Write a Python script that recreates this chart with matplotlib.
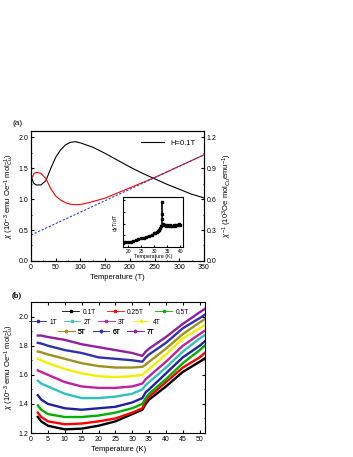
import matplotlib
matplotlib.use("Agg")
import matplotlib.pyplot as plt
from matplotlib.ticker import MultipleLocator

plt.rcParams['font.family'] = ['Liberation Sans', 'DejaVu Sans']
plt.rcParams['mathtext.fontset'] = 'custom'
plt.rcParams['mathtext.rm'] = 'Liberation Sans'
plt.rcParams['mathtext.it'] = 'Liberation Sans:italic'
plt.rcParams['font.size'] = 5

# ---- panel (a) data ----
T_chi = [2, 5, 10, 20, 30, 40, 50, 60, 70, 80, 90, 100, 125, 150, 175, 200,
         225, 250, 275, 300, 325, 350]
chi = [1.33, 1.26, 1.23, 1.23, 1.30, 1.50, 1.68, 1.80, 1.88, 1.92, 1.93, 1.91,
       1.84, 1.74, 1.63, 1.52, 1.42, 1.33, 1.24, 1.16, 1.08, 1.02]
T_inv = [2, 6, 12, 20, 30, 40, 50, 60, 70, 80, 90, 100, 120, 150, 200, 250,
         300, 350]
chi_inv = [0.81, 0.85, 0.86, 0.85, 0.80, 0.70, 0.63, 0.59, 0.565, 0.55, 0.546,
           0.548, 0.57, 0.61, 0.71, 0.81, 0.92, 1.03]
T_fit = [0, 350]
chi_inv_fit = [0.252, 1.03]

T_ins = [18, 19, 20, 21, 22, 23, 24, 25, 26, 27, 28, 29, 30, 30.5, 31, 31.5,
         32, 32.4, 32.7, 32.9, 33.0, 33.1, 33.3, 33.6, 34, 34.5, 35, 35.5, 36,
         36.5, 37, 37.5, 38, 38.5, 39, 39.5, 40]
dchi_ins = [0.08, 0.10, 0.11, 0.12, 0.14, 0.15, 0.17, 0.19, 0.20, 0.22, 0.24,
            0.26, 0.29, 0.31, 0.33, 0.35, 0.37, 0.40, 0.44, 0.60, 0.95, 0.70,
            0.50, 0.47, 0.46, 0.45, 0.47, 0.44, 0.46, 0.45, 0.44, 0.46, 0.45,
            0.47, 0.46, 0.48, 0.46]

# ---- panel (b) data ----
T_b = [2, 3, 5, 10, 15, 20, 25, 30, 33, 34, 35, 40, 45, 50, 52]
fields = ['0.1T', '0.25T', '0.5T', '1T', '2T', '3T', '4T', '5T', '6T', '7T']
colors = ['black', 'red', '#00b000', '#2020a0', '#30c0c0', '#c020a0',
          '#f0f000', '#a09020', '#3030b0', '#9020a0']
chi_b = [
    [1.31, 1.28, 1.25, 1.225, 1.23, 1.25, 1.28, 1.33, 1.36, 1.40, 1.43, 1.52, 1.62, 1.69, 1.72],
    [1.34, 1.31, 1.28, 1.26, 1.265, 1.28, 1.30, 1.34, 1.37, 1.42, 1.45, 1.55, 1.65, 1.72, 1.76],
    [1.39, 1.36, 1.33, 1.31, 1.31, 1.32, 1.34, 1.37, 1.40, 1.44, 1.47, 1.57, 1.68, 1.77, 1.81],
    [1.46, 1.43, 1.40, 1.37, 1.36, 1.37, 1.38, 1.41, 1.44, 1.48, 1.50, 1.61, 1.72, 1.80, 1.84],
    [1.56, 1.54, 1.52, 1.47, 1.44, 1.44, 1.45, 1.47, 1.50, 1.53, 1.55, 1.65, 1.76, 1.85, 1.88],
    [1.63, 1.62, 1.60, 1.55, 1.52, 1.51, 1.51, 1.52, 1.54, 1.57, 1.59, 1.69, 1.80, 1.88, 1.91],
    [1.71, 1.70, 1.68, 1.64, 1.61, 1.59, 1.585, 1.59, 1.60, 1.62, 1.64, 1.74, 1.85, 1.92, 1.95],
    [1.76, 1.755, 1.74, 1.71, 1.68, 1.66, 1.65, 1.65, 1.655, 1.67, 1.69, 1.78, 1.88, 1.96, 1.99],
    [1.82, 1.815, 1.80, 1.77, 1.75, 1.72, 1.71, 1.70, 1.69, 1.72, 1.74, 1.82, 1.92, 1.99, 2.02],
    [1.87, 1.87, 1.86, 1.84, 1.81, 1.79, 1.77, 1.75, 1.73, 1.76, 1.78, 1.86, 1.95, 2.03, 2.06],
]

fig = plt.figure(figsize=(3.53, 4.57), dpi=100)

# panel (a)
ax = fig.add_axes([0.088, 0.429, 0.49, 0.284])
ax.plot(T_chi, chi, color='black', lw=0.8, label='H=0.1T')
ax.set_xlim(0, 350)
ax.set_ylim(0, 2.1)
ax.xaxis.set_major_locator(MultipleLocator(50))
ax.xaxis.set_minor_locator(MultipleLocator(25))
ax.yaxis.set_major_locator(MultipleLocator(0.5))
ax.yaxis.set_minor_locator(MultipleLocator(0.25))
ax.tick_params(which='both', direction='in', labelsize=5, length=2, pad=2)
ax.tick_params(which='minor', length=1)
ax.set_xlabel('Temperature (T)', fontsize=5.5, labelpad=2)
ax.set_ylabel(r'$\chi$ (10$^{-3}$ emu Oe$^{-1}$ mol$_{Cu}^{-1}$)', fontsize=5.5, labelpad=2)
ax.legend(loc='upper right', frameon=False, fontsize=5.5, handlelength=3,
          bbox_to_anchor=(0.99, 0.99))
ax.text(-0.11, 1.05, '(a)', transform=ax.transAxes, fontsize=6)

ax2 = ax.twinx()
ax2.plot(T_inv, chi_inv, color='red', lw=0.8)
ax2.plot(T_fit, chi_inv_fit, color='#3040d0', lw=0.8, ls=(0, (2, 1.5)))
ax2.set_ylim(0, 1.26)
ax2.yaxis.set_major_locator(MultipleLocator(0.3))
ax2.yaxis.set_minor_locator(MultipleLocator(0.15))
ax2.tick_params(which='both', direction='in', labelsize=5, length=2, pad=2)
ax2.tick_params(which='minor', length=1)
ax2.set_ylabel(r'$\chi^{-1}$ (10$^{3}$Oe mol$_{Cu}$emu$^{-1}$)', fontsize=5.5, labelpad=3)

ins = fig.add_axes([0.348, 0.459, 0.17, 0.109])
ins.plot(T_ins, dchi_ins, color='black', lw=0.6, marker='s', ms=1.5)
ins.set_xlim(18, 41)
ins.set_ylim(0, 1.05)
ins.set_xticks([20, 25, 30, 35, 40])
ins.set_yticklabels([])
ins.tick_params(which='both', direction='in', labelsize=3.5, length=1.5, pad=1)
ins.set_xlabel('Temperature (K)', fontsize=3.8, labelpad=0.5)
ins.set_ylabel(r'd$\chi$T/dT', fontsize=3.8, labelpad=1)

# panel (b)
bx = fig.add_axes([0.088, 0.0525, 0.493, 0.2865])
handles = []
for lab, col, vals in zip(fields, colors, chi_b):
    bx.plot(T_b, vals, color=col, lw=1.7, zorder=2)
    h, = bx.plot([], [], color=col, lw=0.6, marker='o', ms=1.6, label=lab)
    handles.append(h)
bx.set_xlim(0, 51.6)
bx.set_ylim(1.2, 2.1)
bx.xaxis.set_major_locator(MultipleLocator(5))
bx.yaxis.set_major_locator(MultipleLocator(0.2))
bx.yaxis.set_minor_locator(MultipleLocator(0.1))
bx.tick_params(which='both', direction='in', labelsize=5, length=2, pad=2,
               top=True, right=True)
bx.tick_params(which='minor', length=1)
bx.set_xlabel('Temperature (K)', fontsize=5.5, labelpad=2)
bx.set_ylabel(r'$\chi$ (10$^{-3}$ emu Oe$^{-1}$ mol$_{Cu}^{-1}$)', fontsize=5.5, labelpad=2)

rows = [(handles[0:3], 0.18, 0.924, 1.7), (handles[3:7], -0.01, 0.847, 1.0),
        (handles[7:10], 0.155, 0.771, 1.0)]
for hs, x0, y0, cs in rows:
    lg = bx.legend(handles=hs, loc='center left', ncol=len(hs), frameon=False,
                   fontsize=4.8, handlelength=2.5, columnspacing=cs,
                   handletextpad=0.5, borderpad=0, borderaxespad=0,
                   bbox_to_anchor=(x0, y0))
    bx.add_artist(lg)

bx.text(-0.11, 1.04, '(b)', transform=bx.transAxes, fontsize=6,
        family='Liberation Serif', weight='bold')

fig.savefig('out.png', dpi=100)
